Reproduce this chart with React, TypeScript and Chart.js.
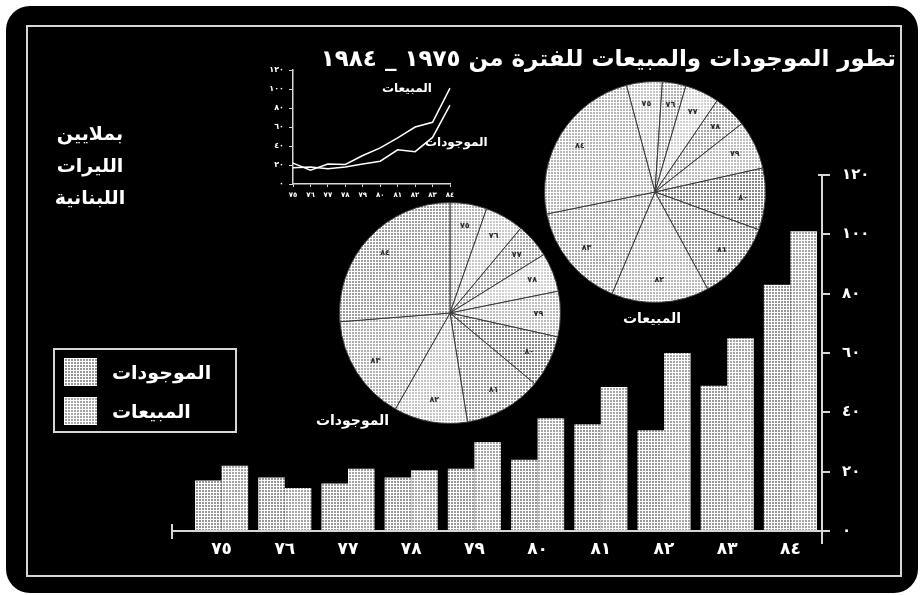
import React, { useEffect, useRef } from 'react';
import { Chart, registerables } from 'chart.js';

Chart.register(...registerables);

// ---------- data ----------
const years = ['٧٥', '٧٦', '٧٧', '٧٨', '٧٩', '٨٠', '٨١', '٨٢', '٨٣', '٨٤'];
const assets = [17, 18, 16, 18, 21, 24, 36, 34, 49, 83];
const sales = [22, 14.5, 21, 20.5, 30, 38, 48.5, 60, 65, 101];
const yTickLabels = ['٠', '٢٠', '٤٠', '٦٠', '٨٠', '١٠٠', '١٢٠'];
const insetYTickLabels = ['٠', '٢٠', '٤٠', '٦٠', '٨٠', '١٠٠', '١٢٠'];
const seriesNames = ['الموجودات', 'المبيعات'];
const titleText = 'تطور الموجودات والمبيعات للفترة من ١٩٧٥ _ ١٩٨٤';
const unitLines = ['بملايين', 'الليرات', 'اللبنانية'];

const FONT = "'DejaVu Sans', sans-serif";
const LINE = '#d6d6d6';
const BAR_A = '#989898';
const BAR_B = '#a6a6a6';

function makePattern(ctx: CanvasRenderingContext2D, dark: string, light = '#ffffff') {
  const c = document.createElement('canvas');
  c.width = 3;
  c.height = 3;
  const g = c.getContext('2d')!;
  g.fillStyle = dark;
  g.fillRect(0, 0, 3, 3);
  g.fillStyle = light;
  g.fillRect(0, 0, 3, 1);
  g.fillRect(0, 0, 1, 3);
  return ctx.createPattern(c, 'repeat') as CanvasPattern;
}

const leftPieShades = ['#b4b4b4', '#c8c8c8', '#a8a8a8', '#d0d0d0', '#bcbcbc', '#8a8a8a', '#9c9c9c', '#c4c4c4', '#b0b0b0', '#a0a0a0'];
const rightPieShades = ['#c4c4c4', '#b0b0b0', '#d0d0d0', '#a8a8a8', '#bcbcbc', '#868686', '#949494', '#b8b8b8', '#aaaaaa', '#b6b6b6'];

const axisLinesPlugin = {
  id: 'axisLines',
  afterDraw(chart: any) {
    const { ctx, chartArea, scales } = chart;
    const y0 = scales.y.getPixelForValue(0);
    const yTop = scales.y.getPixelForValue(120);
    ctx.save();
    ctx.strokeStyle = LINE;
    ctx.lineWidth = 2;
    ctx.beginPath();
    ctx.moveTo(chartArea.left - 18, y0);
    ctx.lineTo(chartArea.right + 8, y0);
    ctx.moveTo(chartArea.left - 18, y0 - 7);
    ctx.lineTo(chartArea.left - 18, y0 + 8);
    ctx.moveTo(chartArea.right, y0);
    ctx.lineTo(chartArea.right, y0 + 13);
    ctx.moveTo(chartArea.right - 4, yTop);
    ctx.lineTo(chartArea.right, yTop);
    ctx.stroke();
    ctx.restore();
  },
};

const sliceLabelPlugin = {
  id: 'sliceLabels',
  afterDatasetsDraw(chart: any) {
    const { ctx } = chart;
    const meta = chart.getDatasetMeta(0);
    ctx.save();
    ctx.fillStyle = '#2a2a2a';
    ctx.font = `bold 8px ${FONT}`;
    ctx.textAlign = 'center';
    ctx.textBaseline = 'middle';
    meta.data.forEach((arc: any, i: number) => {
      const p = arc.getProps(['x', 'y', 'startAngle', 'endAngle', 'outerRadius'], true);
      const mid = (p.startAngle + p.endAngle) / 2;
      const r = p.outerRadius * 0.8;
      ctx.fillText(chart.data.labels[i], p.x + Math.cos(mid) * r, p.y + Math.sin(mid) * r);
    });
    ctx.restore();
  },
};

export default function App() {
  const mainRef = useRef<HTMLCanvasElement>(null);
  const insetRef = useRef<HTMLCanvasElement>(null);
  const pieLRef = useRef<HTMLCanvasElement>(null);
  const pieRRef = useRef<HTMLCanvasElement>(null);

  useEffect(() => {
    const charts: Chart[] = [];
    const mctx = mainRef.current!.getContext('2d')!;
    charts.push(
      new Chart(mctx, {
        type: 'bar',
        data: {
          labels: years,
          datasets: [
            {
              label: seriesNames[0],
              data: assets,
              backgroundColor: makePattern(mctx, BAR_A),
              borderWidth: 0,
              categoryPercentage: 0.84,
              barPercentage: 1,
            },
            {
              label: seriesNames[1],
              data: sales,
              backgroundColor: makePattern(mctx, BAR_B),
              borderWidth: 0,
              categoryPercentage: 0.84,
              barPercentage: 1,
            },
          ],
        },
        options: {
          animation: false,
          responsive: false,
          layout: { padding: { left: 190, right: 38, top: 175, bottom: 24 } },
          plugins: { legend: { display: false }, tooltip: { enabled: false }, title: { display: false } },
          scales: {
            x: {
              grid: { display: false },
              border: { display: false },
              ticks: { color: '#ffffff', font: { family: FONT, size: 17, weight: 'bold' }, padding: 0, maxRotation: 0, autoSkip: false },
              afterFit: (s: any) => { s.height = 40; },
            },
            y: {
              position: 'right',
              min: 0,
              max: 120,
              ticks: {
                stepSize: 20,
                color: '#ffffff',
                font: { family: FONT, size: 15, weight: 'bold' },
                padding: 12,
                callback: (_v: any, i: number) => yTickLabels[i],
              },
              grid: { drawOnChartArea: false, drawTicks: true, tickLength: 8, color: LINE, lineWidth: 2 },
              border: { display: true, color: LINE, width: 2 },
              afterFit: (s: any) => { s.width = 60; },
            },
          },
        },
        plugins: [axisLinesPlugin],
      } as any)
    );

    const ictx = insetRef.current!.getContext('2d')!;
    charts.push(
      new Chart(ictx, {
        type: 'line',
        data: {
          labels: years,
          datasets: [
            { label: seriesNames[1], data: sales, borderColor: '#ffffff', borderWidth: 1.5, pointRadius: 0, tension: 0 },
            { label: seriesNames[0], data: assets, borderColor: '#ffffff', borderWidth: 1.5, pointRadius: 0, tension: 0 },
          ],
        },
        options: {
          animation: false,
          responsive: false,
          layout: { padding: { left: 33, right: 20, top: 15, bottom: 0 } },
          plugins: { legend: { display: false }, tooltip: { enabled: false } },
          scales: {
            x: {
              offset: false,
              grid: { drawOnChartArea: false, tickLength: 3, color: LINE },
              border: { display: true, color: LINE, width: 1.5 },
              ticks: { color: '#ffffff', font: { family: FONT, size: 7, weight: 'bold' }, padding: 4, maxRotation: 0, autoSkip: false },
              afterFit: (s: any) => { s.height = 26; },
            },
            y: {
              min: 0,
              max: 120,
              grid: { drawOnChartArea: false, tickLength: 4, color: LINE },
              border: { display: true, color: LINE, width: 1.5 },
              ticks: {
                stepSize: 20,
                color: '#ffffff',
                font: { family: FONT, size: 8, weight: 'bold' },
                padding: 5,
                callback: (_v: any, i: number) => insetYTickLabels[i],
              },
              afterFit: (s: any) => { s.width = 30; },
            },
          },
        },
      } as any)
    );

    const makePie = (canvas: HTMLCanvasElement, values: number[], shades: string[], rotation: number) => {
      const pctx = canvas.getContext('2d')!;
      return new Chart(pctx, {
        type: 'pie',
        data: {
          labels: years,
          datasets: [
            {
              data: values,
              backgroundColor: shades.map((s) => makePattern(pctx, s)),
              borderColor: '#3a3a3a',
              borderWidth: 1,
            },
          ],
        },
        options: {
          animation: false,
          responsive: false,
          rotation,
          layout: { padding: 0 },
          plugins: { legend: { display: false }, tooltip: { enabled: false } },
        },
        plugins: [sliceLabelPlugin],
      } as any);
    };
    charts.push(makePie(pieLRef.current!, assets, leftPieShades, 0));
    charts.push(makePie(pieRRef.current!, sales, rightPieShades, -15));

    return () => charts.forEach((c) => c.destroy());
  }, []);

  const txt: React.CSSProperties = {
    position: 'absolute',
    color: '#ffffff',
    fontFamily: FONT,
    fontWeight: 'bold',
    whiteSpace: 'nowrap',
  };
  const swatch = (dark: string): React.CSSProperties => ({
    position: 'absolute',
    width: 33,
    height: 28,
    backgroundColor: dark,
    backgroundImage:
      'repeating-linear-gradient(0deg, #fff 0 1px, transparent 1px 3px), repeating-linear-gradient(90deg, #fff 0 1px, transparent 1px 3px)',
  });

  return (
    <div style={{ position: 'fixed', left: 0, top: 0, width: 920, height: 595, background: '#ffffff', overflow: 'hidden' }}>
      <div style={{ position: 'absolute', left: 6, top: 6, width: 912, height: 587, background: '#000', borderRadius: 24 }} />
      <div style={{ position: 'absolute', left: 26, top: 25, width: 872, height: 548, border: `2px solid ${LINE}` }} />
      <canvas ref={mainRef} width={920} height={595} style={{ position: 'absolute', left: 0, top: 0 }} />
      <canvas ref={insetRef} width={240} height={155} style={{ position: 'absolute', left: 230, top: 55 }} />
      <canvas ref={pieLRef} width={222} height={222} style={{ position: 'absolute', left: 339, top: 202 }} />
      <canvas ref={pieRRef} width={222} height={222} style={{ position: 'absolute', left: 544, top: 81 }} />

      <div dir="rtl" style={{ ...txt, right: 24, top: 43, fontSize: 23, lineHeight: '30px' }}>{titleText}</div>

      <div dir="rtl" style={{ ...txt, left: 40, top: 117, width: 100, textAlign: 'center', fontSize: 19, lineHeight: '32px' }}>
        {unitLines.map((l) => (
          <div key={l}>{l}</div>
        ))}
      </div>

      <div dir="rtl" style={{ ...txt, left: 382, top: 80, fontSize: 12, lineHeight: '16px' }}>{seriesNames[1]}</div>
      <div dir="rtl" style={{ ...txt, left: 425, top: 134, fontSize: 12, lineHeight: '16px' }}>{seriesNames[0]}</div>

      <div dir="rtl" style={{ ...txt, left: 316, top: 411, fontSize: 14, lineHeight: '18px' }}>{seriesNames[0]}</div>
      <div dir="rtl" style={{ ...txt, left: 623, top: 309, fontSize: 14, lineHeight: '18px' }}>{seriesNames[1]}</div>

      <div style={{ position: 'absolute', left: 53, top: 348, width: 180, height: 81, border: `2px solid ${LINE}` }} />
      <div style={{ ...swatch(BAR_A), left: 64, top: 358 }} />
      <div style={{ ...swatch(BAR_B), left: 64, top: 397 }} />
      <div dir="rtl" style={{ ...txt, left: 112, top: 359, fontSize: 19, lineHeight: '26px' }}>{seriesNames[0]}</div>
      <div dir="rtl" style={{ ...txt, left: 112, top: 398, fontSize: 19, lineHeight: '26px' }}>{seriesNames[1]}</div>
    </div>
  );
}
